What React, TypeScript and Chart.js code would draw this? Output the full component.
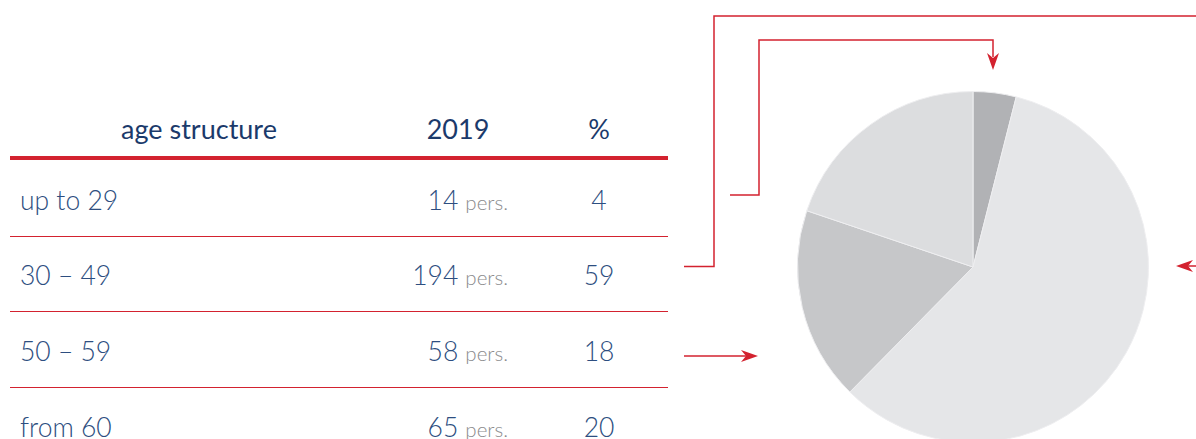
import React, { useEffect, useRef } from "react";
import { Chart, registerables } from "chart.js";

Chart.register(...registerables);

const categories = ["up to 29", "30 – 49", "50 – 59", "from 60"];
const persons = [14, 194, 58, 65];
const percents = [4, 59, 18, 20];
const headerLabels = ["age structure", "2019", "%"];
const sliceColors = ["#b1b2b5", "#e5e6e8", "#c6c7c9", "#dcdddf"];

const NAVY = "#1b3a6b";
const ROW_BLUE = "#2d4e80";
const RED = "#d3222f";
const FONT = "Lato, 'Open Sans', sans-serif";

function PieChart() {
  const ref = useRef<HTMLCanvasElement | null>(null);
  useEffect(() => {
    if (!ref.current) return;
    const chart = new Chart(ref.current, {
      type: "pie",
      data: {
        labels: categories,
        datasets: [
          {
            data: percents,
            backgroundColor: sliceColors,
            borderColor: "#eeeef0",
            borderWidth: 1,
          },
        ],
      },
      options: {
        responsive: false,
        maintainAspectRatio: false,
        animation: false,
        layout: { padding: 0 },
        plugins: {
          legend: { display: false },
          tooltip: { enabled: false },
        },
      },
    });
    return () => chart.destroy();
  }, []);
  return (
    <canvas
      ref={ref}
      width={352}
      height={352}
      style={{ position: "absolute", left: 797, top: 91, width: 352, height: 352 }}
    />
  );
}

const txt = (extra: React.CSSProperties): React.CSSProperties => ({
  position: "absolute",
  lineHeight: "1",
  whiteSpace: "nowrap",
  fontFamily: FONT,
  transform: "translateY(-50%)",
  ...extra,
});

export default function App() {
  const rowCenters = [200, 275, 351, 427];
  const rowLines = [236, 311, 387];
  return (
    <div
      style={{
        position: "absolute",
        left: 0,
        top: 0,
        width: 1196,
        height: 439,
        overflow: "hidden",
        background: "#ffffff",
      }}
    >
      {/* header */}
      <div style={{ ...txt({ left: 99, width: 200, top: 128, textAlign: "center", fontSize: 27, color: NAVY, fontWeight: 400 }) }}>
        {headerLabels[0]}
      </div>
      <div style={{ ...txt({ left: 408, width: 100, top: 128, textAlign: "center", fontSize: 27, color: NAVY, fontWeight: 400 }) }}>
        {headerLabels[1]}
      </div>
      <div style={{ ...txt({ left: 559, width: 80, top: 128, textAlign: "center", fontSize: 27, color: NAVY, fontWeight: 400 }) }}>
        {headerLabels[2]}
      </div>
      <div style={{ position: "absolute", left: 10, top: 156, width: 658, height: 4, background: RED }} />
      {rowLines.map((y, i) => (
        <div key={i} style={{ position: "absolute", left: 10, top: y - 0.5, width: 658, height: 1, background: RED }} />
      ))}
      {categories.map((c, i) => (
        <React.Fragment key={c}>
          <div style={txt({ left: 20, top: rowCenters[i], fontSize: 26.5, color: ROW_BLUE, fontWeight: 300 })}>{c}</div>
          <div style={txt({ right: 1196 - 508, top: rowCenters[i], fontSize: 26.5, color: ROW_BLUE, fontWeight: 300, textAlign: "right" })}>
            {persons[i]}
            <span style={{ fontSize: 20.5, color: "#8a8a8c", marginLeft: 7 }}>pers.</span>
          </div>
          <div style={txt({ left: 559, width: 80, top: rowCenters[i], fontSize: 26.5, color: ROW_BLUE, fontWeight: 300, textAlign: "center" })}>
            {percents[i]}
          </div>
        </React.Fragment>
      ))}
      <PieChart />
      <svg
        width={1196}
        height={439}
        style={{ position: "absolute", left: 0, top: 0, pointerEvents: "none" }}
      >
        <g stroke={RED} strokeWidth={1.5} fill="none">
          <polyline points="684,266.5 714,266.5 714,16 1200,16" />
          <polyline points="730,195 759,195 759,40 993,40 993,57" />
          <line x1={684} y1={356} x2={747} y2={356} />
          <line x1={1188} y1={266} x2={1200} y2={266} />
        </g>
        <g fill={RED}>
          <polygon points="993,70 987,53 993,58 999,53" />
          <polygon points="1176,266 1193,260 1188,266 1193,272" />
          <polygon points="758,356 741,350 746,356 741,362" />
        </g>
      </svg>
    </div>
  );
}
